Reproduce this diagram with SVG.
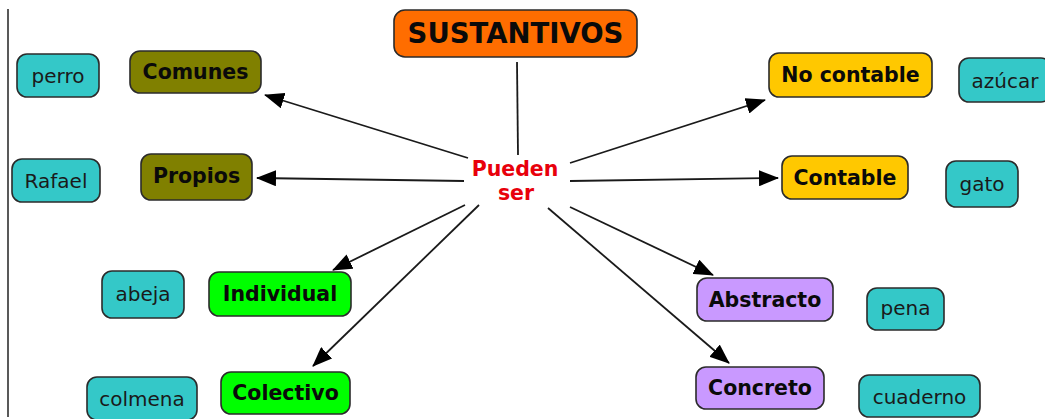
<svg xmlns="http://www.w3.org/2000/svg" width="1045" height="419" viewBox="0 0 1045 419">
<style>
.box{stroke:#2b2b2b;stroke-width:1.6}
.t{font-family:"DejaVu Sans",Verdana,sans-serif;font-size:20px;text-anchor:middle;fill:#1a1a1a}
.b{font-weight:bold;font-size:20.5px;fill:#0a0a0a}
.ex{fill:#34C8C8}
.ol{fill:#808000}
.yl{fill:#FFC800}
.gr{fill:#00FF00}
.pu{fill:#C999FF}
.c{stroke:#1a1a1a;stroke-width:1.8;fill:none}
</style>
<defs>
<marker id="ah" markerUnits="userSpaceOnUse" markerWidth="20" markerHeight="16" refX="19" refY="8" orient="auto" viewBox="0 0 20 16">
<path d="M0,0 L20,8 L0,16 Z" fill="#000"/>
</marker>
</defs>
<rect x="0" y="0" width="1045" height="419" fill="#fff"/>
<line x1="8" y1="9" x2="8" y2="417" stroke="#222" stroke-width="1.5"/>
<g id="connectors">
<line class="c" x1="517" y1="62" x2="518" y2="155"/>
<line class="c" x1="468" y1="158" x2="265" y2="95" marker-end="url(#ah)"/>
<line class="c" x1="464" y1="181" x2="257" y2="178" marker-end="url(#ah)"/>
<line class="c" x1="570" y1="163" x2="765" y2="100" marker-end="url(#ah)"/>
<line class="c" x1="570" y1="181" x2="778" y2="178" marker-end="url(#ah)"/>
<line class="c" x1="465" y1="205" x2="333" y2="270" marker-end="url(#ah)"/>
<line class="c" x1="479" y1="205" x2="313" y2="366" marker-end="url(#ah)"/>
<line class="c" x1="570" y1="207" x2="713" y2="275" marker-end="url(#ah)"/>
<line class="c" x1="548" y1="208" x2="729" y2="363" marker-end="url(#ah)"/>
</g>
<g id="sustantivos">
<rect class="box" x="394" y="10" width="243" height="47" rx="11" fill="#FF6D00"/>
<text class="t b" x="515.5" y="33.5" dy="0.36em" style="font-size:27.5px">SUSTANTIVOS</text>
</g>
<g id="pueden-ser">
<text class="t b" x="515" y="176" style="fill:#E8000B">Pueden</text>
<text class="t b" x="516" y="200" style="fill:#E8000B">ser</text>
</g>
<g id="comunes">
<rect class="box ol" x="130" y="51" width="131" height="42" rx="10"/>
<text class="t b" x="195.5" y="72" dy="0.36em">Comunes</text>
</g>
<g id="perro">
<rect class="box ex" x="17" y="54" width="82" height="43" rx="10"/>
<text class="t" x="58" y="75.5" dy="0.36em">perro</text>
</g>
<g id="propios">
<rect class="box ol" x="141" y="154" width="111" height="46" rx="10"/>
<text class="t b" x="196.5" y="176" dy="0.36em">Propios</text>
</g>
<g id="rafael">
<rect class="box ex" x="12" y="159" width="88" height="43" rx="10"/>
<text class="t" x="56" y="181" dy="0.36em">Rafael</text>
</g>
<g id="no-contable">
<rect class="box yl" x="769" y="53" width="163" height="44" rx="10"/>
<text class="t b" x="850.5" y="75" dy="0.36em">No contable</text>
</g>
<g id="azucar">
<rect class="box ex" x="959" y="58" width="92" height="44" rx="10"/>
<text class="t" x="1005" y="80.5" dy="0.36em">azúcar</text>
</g>
<g id="contable">
<rect class="box yl" x="782" y="156" width="126" height="43" rx="10"/>
<text class="t b" x="845" y="177.5" dy="0.36em">Contable</text>
</g>
<g id="gato">
<rect class="box ex" x="946" y="161" width="72" height="46" rx="10"/>
<text class="t" x="982" y="184" dy="0.36em">gato</text>
</g>
<g id="individual">
<rect class="box gr" x="209" y="272" width="142" height="44" rx="10"/>
<text class="t b" x="280" y="294" dy="0.36em">Individual</text>
</g>
<g id="abeja">
<rect class="box ex" x="102" y="271" width="82" height="47" rx="10"/>
<text class="t" x="143" y="293.5" dy="0.36em">abeja</text>
</g>
<g id="colectivo">
<rect class="box gr" x="221" y="372" width="129" height="42" rx="10"/>
<text class="t b" x="285.5" y="393" dy="0.36em">Colectivo</text>
</g>
<g id="colmena">
<rect class="box ex" x="87" y="377" width="110" height="43" rx="10"/>
<text class="t" x="142" y="399" dy="0.36em">colmena</text>
</g>
<g id="abstracto">
<rect class="box pu" x="697" y="278" width="136" height="43" rx="10"/>
<text class="t b" x="765" y="299.5" dy="0.36em">Abstracto</text>
</g>
<g id="pena">
<rect class="box ex" x="867" y="288" width="77" height="42" rx="10"/>
<text class="t" x="905.5" y="308" dy="0.36em">pena</text>
</g>
<g id="concreto">
<rect class="box pu" x="696" y="367" width="128" height="42" rx="10"/>
<text class="t b" x="760" y="388" dy="0.36em">Concreto</text>
</g>
<g id="cuaderno">
<rect class="box ex" x="859" y="375" width="121" height="42" rx="10"/>
<text class="t" x="919.5" y="397" dy="0.36em">cuaderno</text>
</g>
</svg>
